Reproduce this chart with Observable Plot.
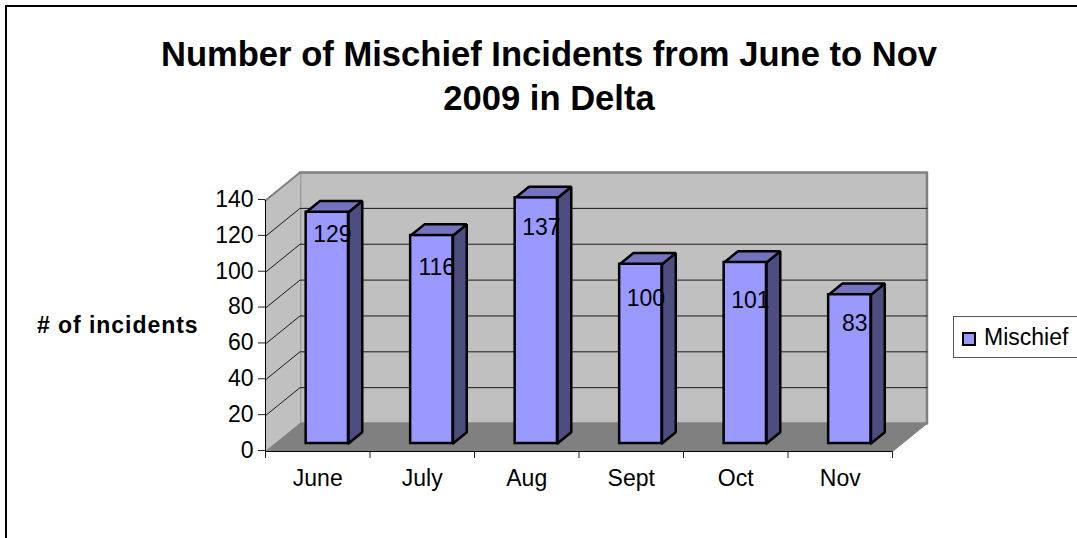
<!DOCTYPE html>
<html>
<head>
<meta charset="utf-8">
<script src="https://cdn.jsdelivr.net/npm/d3@7"></script>
<script src="https://cdn.jsdelivr.net/npm/@observablehq/plot@0.6"></script>
<style>
html,body{margin:0;padding:0;background:#fff;overflow:hidden}
#chart{position:relative;width:1077px;height:538px;font-family:"Liberation Sans",Arial,sans-serif;color:#000}
#chart svg{position:absolute;left:0;top:0}
#frame{position:absolute;left:5px;top:5px;width:1072px;height:533px;box-sizing:border-box;border-left:2.5px solid #000;border-top:2.5px solid #000}
#title{position:absolute;left:7px;width:1084px;top:32px;text-align:center;font-size:34.6px;font-weight:bold;line-height:44px;margin:0}
#ytitle{position:absolute;left:37px;top:312px;font-size:23px;font-weight:bold;line-height:26px;white-space:nowrap;letter-spacing:.95px}
#legend{position:absolute;left:953px;top:316px;width:124px;height:42px;box-sizing:border-box;border:1px solid #555;border-right:none}
#legend i{position:absolute;left:8px;top:15px;width:14px;height:14px;box-sizing:border-box;background:#9999ff;border:2px solid #000}
#legend span{position:absolute;left:30px;top:7px;font-size:23px;line-height:26px}
</style>
</head>
<body>
<div id="chart">
  <div id="frame"></div>
  <h1 id="title">Number of Mischief Incidents from June to Nov<br>2009 in Delta</h1>
  <div id="ytitle"># of incidents</div>
  <div id="legend"><i></i><span>Mischief</span></div>
</div>
<script>
const months = ["June", "July", "Aug", "Sept", "Oct", "Nov"];
const incidents = [129, 116, 137, 100, 101, 83];
const labelHeights = [121, 102.6, 125, 85.3, 84.2, 71.4];
const yTicks = [0, 20, 40, 60, 80, 100, 120, 140];

// Oblique projection, in data units: one full depth of the box moves a point
// this far along x (categories) and y (incidents).
const depthX = 0.33, depthY = 15.6;
const project = (c, v, d) => ({x: c + d * depthX, y: v + d * depthY});

const poly = (face, corners) => [...corners, corners[0]].map(([c, v, d]) => ({face, ...project(c, v, d)}));
const cats = months.length, yMax = 140;

const leftWall = poly("left", [[0, 0, 0], [0, yMax, 0], [0, yMax, 1], [0, 0, 1]]);
const floorFace = poly("floor", [[0, 0, 0], [cats, 0, 0], [cats, 0, 1], [0, 0, 1]]);
const backWall = poly("back", [[0, 0, 1], [cats, 0, 1], [cats, yMax, 1], [0, yMax, 1]]);
const gridValues = yTicks.filter(v => v > 0 && v < yMax);
const gridLines = gridValues.flatMap(v => [
  {face: v, ...project(0, v, 0)}, {face: v, ...project(0, v, 1)}, {face: v, ...project(cats, v, 1)}
]);
const topLeftEdge = [project(0, yMax, 0), project(0, yMax, 1)];

// Bar boxes
const barFront = 0.285, barDepth = 0.4, barWidth = 0.405, barLeft = 0.295;
const bars = incidents.map((v, i) => ({month: months[i], v, x1: i + barLeft, x2: i + barLeft + barWidth}));
const frontFaces = bars.map(b => ({
  x1: b.x1 + barFront * depthX, x2: b.x2 + barFront * depthX,
  y1: barFront * depthY, y2: b.v + barFront * depthY
}));
const d0 = barFront, d1 = barFront + barDepth;
const sideFaces = bars.flatMap(b => poly(b.month, [[b.x2, 0, d0], [b.x2, b.v, d0], [b.x2, b.v, d1], [b.x2, 0, d1]]));
const topFaces = bars.flatMap(b => poly(b.month, [[b.x1, b.v, d0], [b.x2, b.v, d0], [b.x2, b.v, d1], [b.x1, b.v, d1]]));
const labels = bars.map((b, i) => ({text: b.v, x: b.x1 + barFront * depthX + barWidth / 2, y: labelHeights[i]}));

const chart = Plot.plot({
  width: 1077, height: 538,
  marginLeft: 265, marginRight: 185, marginTop: 200, marginBottom: 87,
  style: {fontFamily: '"Liberation Sans", Arial, sans-serif', background: "transparent", overflow: "visible"},
  x: {domain: [0, cats], label: null},
  y: {domain: [0, yMax], label: null},
  marks: [
    Plot.line(backWall, {x: "x", y: "y", z: "face", fill: "#c0c0c0", stroke: "#808080", strokeWidth: 2.5}),
    Plot.line(leftWall, {x: "x", y: "y", z: "face", fill: "#c0c0c0", stroke: "#c0c0c0", strokeWidth: 1}),
    Plot.line(floorFace, {x: "x", y: "y", z: "face", fill: "#808080", stroke: "#808080", strokeWidth: 1}),
    Plot.line(gridLines, {x: "x", y: "y", z: "face", stroke: "#1a1a1a", strokeWidth: 1}),
    Plot.line(topLeftEdge, {x: "x", y: "y", stroke: "#808080", strokeWidth: 2}),
    Plot.ruleX([0], {stroke: "#000", strokeWidth: 1}),
    Plot.ruleY([0], {stroke: "#000", strokeWidth: 1}),
    Plot.axisY({ticks: yTicks, tickSize: 7, tickPadding: 5, fontSize: 23, label: null, stroke: "#222", dy: -1}),
    Plot.axisX({ticks: d3.range(0, cats + 1), tickSize: 7, tickFormat: () => "", label: null, stroke: "#222"}),
    Plot.axisX({ticks: months.map((m, i) => i + 0.5), tickSize: 0, tickPadding: 18, fontSize: 23,
      tickFormat: d => months[d - 0.5], label: null}),
    Plot.line(sideFaces, {x: "x", y: "y", z: "face", fill: "#4d4d80", stroke: "#000", strokeWidth: 2.5, strokeLinejoin: "miter"}),
    Plot.line(topFaces, {x: "x", y: "y", z: "face", fill: "#7373bf", stroke: "#000", strokeWidth: 2.5, strokeLinejoin: "miter"}),
    Plot.rect(frontFaces, {x1: "x1", x2: "x2", y1: "y1", y2: "y2", fill: "#9999ff", stroke: "#000", strokeWidth: 2.5}),
    Plot.text(labels, {x: "x", y: "y", text: "text", dx: 5, fontSize: 23, fill: "#000"})
  ]
});
document.getElementById("chart").prepend(chart);
</script>
</body>
</html>
